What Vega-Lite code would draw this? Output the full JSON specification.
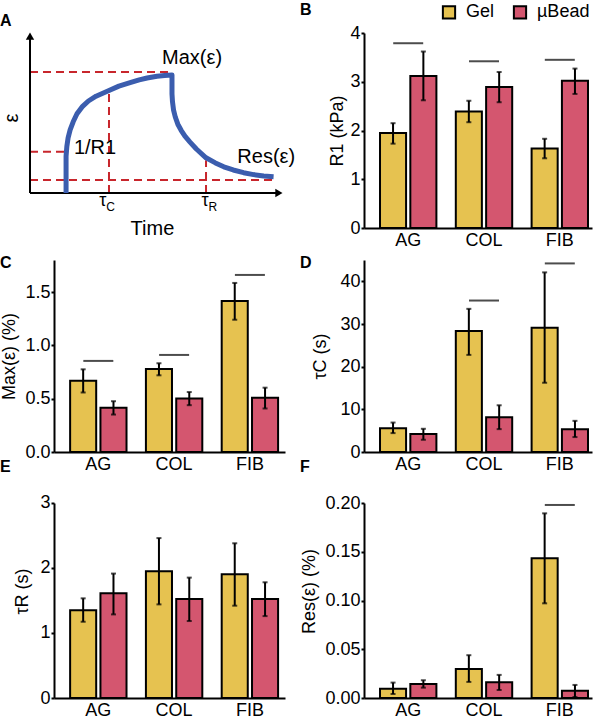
{
  "$schema": "https://vega.github.io/schema/vega-lite/v6.json",
  "background": "white",
  "padding": {"left": 0, "top": 2, "right": 2, "bottom": 2},
  "bounds": "flush",
  "align": "each",
  "columns": 2,
  "spacing": {"row": 32, "column": 79},
  "resolve": {"scale": {"color": "shared", "x": "independent", "y": "independent", "xOffset": "independent"}},
  "config": {
    "font": "Liberation Sans",
    "view": {"stroke": null},
    "axis": {"domainColor": "black", "domainWidth": 2, "tickColor": "black", "tickWidth": 2, "tickSize": 3, "labelColor": "black", "titleColor": "black", "labelFontSize": 18, "titleFontSize": 18, "titleFontWeight": "normal", "grid": false, "labelPadding": 1, "titlePadding": 5},
    "axisX": {"ticks": false, "labelAngle": 0, "labelPadding": 3},
    "title": {"fontSize": 16, "fontWeight": "bold", "anchor": "start", "frame": "group", "color": "black", "offset": 0}
  },
  "datasets": {
    "bars": [
      {"p": "B", "g": "AG", "t": "Gel", "v": 1.95, "lo": 1.73, "hi": 2.15},
      {"p": "B", "g": "AG", "t": "µBead", "v": 3.12, "lo": 2.62, "hi": 3.62},
      {"p": "B", "g": "COL", "t": "Gel", "v": 2.39, "lo": 2.17, "hi": 2.61},
      {"p": "B", "g": "COL", "t": "µBead", "v": 2.89, "lo": 2.58, "hi": 3.20},
      {"p": "B", "g": "FIB", "t": "Gel", "v": 1.63, "lo": 1.43, "hi": 1.83},
      {"p": "B", "g": "FIB", "t": "µBead", "v": 3.02, "lo": 2.75, "hi": 3.27},
      {"p": "C", "g": "AG", "t": "Gel", "v": 0.668, "lo": 0.558, "hi": 0.775},
      {"p": "C", "g": "AG", "t": "µBead", "v": 0.414, "lo": 0.351, "hi": 0.476},
      {"p": "C", "g": "COL", "t": "Gel", "v": 0.778, "lo": 0.719, "hi": 0.832},
      {"p": "C", "g": "COL", "t": "µBead", "v": 0.502, "lo": 0.439, "hi": 0.562},
      {"p": "C", "g": "FIB", "t": "Gel", "v": 1.415, "lo": 1.24, "hi": 1.585},
      {"p": "C", "g": "FIB", "t": "µBead", "v": 0.508, "lo": 0.408, "hi": 0.603},
      {"p": "D", "g": "AG", "t": "Gel", "v": 5.59, "lo": 4.43, "hi": 6.9},
      {"p": "D", "g": "AG", "t": "µBead", "v": 4.19, "lo": 2.87, "hi": 5.44},
      {"p": "D", "g": "COL", "t": "Gel", "v": 28.35, "lo": 22.76, "hi": 33.55},
      {"p": "D", "g": "COL", "t": "µBead", "v": 8.16, "lo": 5.36, "hi": 10.95},
      {"p": "D", "g": "FIB", "t": "Gel", "v": 29.13, "lo": 16.23, "hi": 42.1},
      {"p": "D", "g": "FIB", "t": "µBead", "v": 5.36, "lo": 3.5, "hi": 7.3},
      {"p": "E", "g": "AG", "t": "Gel", "v": 1.348, "lo": 1.173, "hi": 1.533},
      {"p": "E", "g": "AG", "t": "µBead", "v": 1.611, "lo": 1.286, "hi": 1.914},
      {"p": "E", "g": "COL", "t": "Gel", "v": 1.95, "lo": 1.44, "hi": 2.46},
      {"p": "E", "g": "COL", "t": "µBead", "v": 1.523, "lo": 1.184, "hi": 1.852},
      {"p": "E", "g": "FIB", "t": "Gel", "v": 1.904, "lo": 1.42, "hi": 2.38},
      {"p": "E", "g": "FIB", "t": "µBead", "v": 1.523, "lo": 1.26, "hi": 1.78},
      {"p": "F", "g": "AG", "t": "Gel", "v": 0.0096, "lo": 0.0041, "hi": 0.0158},
      {"p": "F", "g": "AG", "t": "µBead", "v": 0.0144, "lo": 0.0106, "hi": 0.0182},
      {"p": "F", "g": "COL", "t": "Gel", "v": 0.0298, "lo": 0.0165, "hi": 0.0439},
      {"p": "F", "g": "COL", "t": "µBead", "v": 0.0161, "lo": 0.0082, "hi": 0.0237},
      {"p": "F", "g": "FIB", "t": "Gel", "v": 0.1434, "lo": 0.0971, "hi": 0.1894},
      {"p": "F", "g": "FIB", "t": "µBead", "v": 0.0075, "lo": 0.001, "hi": 0.0134}
    ],
    "sig": [
      {"p": "B", "g": "AG", "v": 3.79},
      {"p": "B", "g": "COL", "v": 3.42},
      {"p": "B", "g": "FIB", "v": 3.45},
      {"p": "C", "g": "AG", "v": 0.854},
      {"p": "C", "g": "COL", "v": 0.91},
      {"p": "C", "g": "FIB", "v": 1.66},
      {"p": "D", "g": "COL", "v": 35.5},
      {"p": "D", "g": "FIB", "v": 44.2},
      {"p": "F", "g": "FIB", "v": 0.198}
    ],
    "aCurve": [
      {"o": 1, "t": 1.42, "e": 0}, {"o": 2, "t": 1.42, "e": 2.3}, {"o": 3, "t": 1.45, "e": 2.9},
      {"o": 4, "t": 1.5, "e": 3.44}, {"o": 5, "t": 1.58, "e": 3.95}, {"o": 6, "t": 1.7, "e": 4.45},
      {"o": 7, "t": 1.85, "e": 4.95}, {"o": 8, "t": 2.05, "e": 5.38}, {"o": 9, "t": 2.3, "e": 5.75},
      {"o": 10, "t": 2.6, "e": 6.05}, {"o": 11, "t": 3.11, "e": 6.41}, {"o": 12, "t": 3.5, "e": 6.68},
      {"o": 13, "t": 3.94, "e": 6.9}, {"o": 14, "t": 4.3, "e": 7.07}, {"o": 15, "t": 4.61, "e": 7.19},
      {"o": 16, "t": 5.0, "e": 7.3}, {"o": 17, "t": 5.3, "e": 7.35}, {"o": 18, "t": 5.59, "e": 7.38},
      {"o": 19, "t": 5.59, "e": 6.2}, {"o": 20, "t": 5.61, "e": 5.7}, {"o": 21, "t": 5.65, "e": 5.2},
      {"o": 22, "t": 5.72, "e": 4.75}, {"o": 23, "t": 5.82, "e": 4.3}, {"o": 24, "t": 5.95, "e": 3.92},
      {"o": 25, "t": 6.1, "e": 3.55}, {"o": 26, "t": 6.3, "e": 3.18}, {"o": 27, "t": 6.55, "e": 2.75},
      {"o": 28, "t": 6.93, "e": 2.2}, {"o": 29, "t": 7.3, "e": 1.88}, {"o": 30, "t": 7.63, "e": 1.64},
      {"o": 31, "t": 8.0, "e": 1.44}, {"o": 32, "t": 8.41, "e": 1.27}, {"o": 33, "t": 8.8, "e": 1.15},
      {"o": 34, "t": 9.2, "e": 1.06}, {"o": 35, "t": 9.59, "e": 1.02}
    ],
    "aDash": [
      {"x": 0, "y": 7.56, "x2": 5.59, "y2": 7.56},
      {"x": 0, "y": 2.58, "x2": 1.42, "y2": 2.58},
      {"x": 0, "y": 0.81, "x2": 9.59, "y2": 0.81},
      {"x": 3.11, "y": 0, "x2": 3.11, "y2": 6.3},
      {"x": 6.93, "y": 0, "x2": 6.93, "y2": 2.05}
    ],
    "aAxes": [
      {"x": 0, "y": 0, "x2": 0, "y2": 9.8},
      {"x": 0, "y": 0, "x2": 9.8, "y2": 0}
    ],
    "aText": [
      {"t": 6.38, "e": 8.44, "label": "Max(ε)"},
      {"t": 2.56, "e": 2.81, "label": "1/R1"},
      {"t": 9.3, "e": 2.27, "label": "Res(ε)"}
    ],
    "aTau": [
      {"t": 2.87, "e": -0.5, "label": "τ"},
      {"t": 6.89, "e": -0.5, "label": "τ"}
    ],
    "aSub": [
      {"t": 3.17, "e": -0.875, "label": "C"},
      {"t": 7.2, "e": -0.875, "label": "R"}
    ]
  },
  "concat": [
    {
      "width": 230, "height": 195,
      "title": {"text": "A", "dx": -54, "dy": 0},
      "layer": [
        {"data": {"name": "aDash"}, "mark": {"type": "rule", "color": "#c8262c", "strokeWidth": 2, "strokeDash": [8, 5]},
         "encoding": {
           "x": {"field": "x", "type": "quantitative", "scale": {"domain": [0.945, 10], "nice": false, "zero": false}, "axis": null},
           "y": {"field": "y", "type": "quantitative", "scale": {"domain": [-2.1875, 10], "nice": false, "zero": false}, "axis": null},
           "x2": {"field": "x2"}, "y2": {"field": "y2"}}},
        {"data": {"name": "aAxes"}, "mark": {"type": "rule", "color": "black", "strokeWidth": 2},
         "encoding": {"x": {"field": "x", "type": "quantitative"}, "y": {"field": "y", "type": "quantitative"}, "x2": {"field": "x2"}, "y2": {"field": "y2"}}},
        {"data": {"name": "aCurve"}, "mark": {"type": "line", "color": "#3b5dae", "strokeWidth": 5, "strokeJoin": "round"},
         "encoding": {"x": {"field": "t", "type": "quantitative"}, "y": {"field": "e", "type": "quantitative"}, "order": {"field": "o", "type": "quantitative"}}},
        {"data": {"values": [{"x": 0, "y": 9.8}]}, "mark": {"type": "point", "shape": "triangle-up", "filled": true, "color": "black", "opacity": 1, "size": 70},
         "encoding": {"x": {"field": "x", "type": "quantitative"}, "y": {"field": "y", "type": "quantitative"}}},
        {"data": {"values": [{"x": 9.8, "y": 0}]}, "mark": {"type": "point", "shape": "triangle-right", "filled": true, "color": "black", "opacity": 1, "size": 70},
         "encoding": {"x": {"field": "x", "type": "quantitative"}, "y": {"field": "y", "type": "quantitative"}}},
        {"data": {"name": "aText"}, "mark": {"type": "text", "fontSize": 20, "color": "black", "align": "center", "baseline": "middle"},
         "encoding": {"x": {"field": "t", "type": "quantitative"}, "y": {"field": "e", "type": "quantitative"}, "text": {"field": "label"}}},
        {"data": {"values": [{"t": 4.82, "e": -2.22, "label": "Time"}]}, "mark": {"type": "text", "fontSize": 20, "color": "black", "align": "center", "baseline": "middle"},
         "encoding": {"x": {"field": "t", "type": "quantitative"}, "y": {"field": "e", "type": "quantitative"}, "text": {"field": "label"}}},
        {"data": {"values": [{"t": -0.71, "e": 4.69, "label": "ε"}]}, "mark": {"type": "text", "fontSize": 20, "color": "black", "align": "center", "baseline": "middle", "angle": 270},
         "encoding": {"x": {"field": "t", "type": "quantitative"}, "y": {"field": "e", "type": "quantitative"}, "text": {"field": "label"}}},
        {"data": {"name": "aTau"}, "mark": {"type": "text", "fontSize": 18, "color": "black", "align": "center", "baseline": "middle"},
         "encoding": {"x": {"field": "t", "type": "quantitative"}, "y": {"field": "e", "type": "quantitative"}, "text": {"field": "label"}}},
        {"data": {"name": "aSub"}, "mark": {"type": "text", "fontSize": 12, "color": "black", "align": "center", "baseline": "middle"},
         "encoding": {"x": {"field": "t", "type": "quantitative"}, "y": {"field": "e", "type": "quantitative"}, "text": {"field": "label"}}}
      ]
    },
    {
      "width": 228, "height": 195,
      "title": {"text": "B", "dx": -64, "dy": -2},
      "layer": [
        {"data": {"name": "bars"}, "transform": [{"filter": "datum.p === 'B'"}],
         "mark": {"type": "bar", "stroke": "black", "strokeWidth": 2},
         "encoding": {
           "x": {"field": "g", "type": "nominal", "sort": ["AG", "COL", "FIB"], "scale": {"paddingInner": 0.256, "paddingOuter": 0.132, "align": 0.8}, "axis": {"title": null}},
           "xOffset": {"field": "t", "type": "nominal", "sort": ["Gel", "µBead"], "scale": {"paddingInner": 0.14, "paddingOuter": 0}},
           "y": {"field": "v", "type": "quantitative", "scale": {"domain": [0, 4], "nice": false}, "axis": {"title": "R1 (kPa)", "values": [0, 1, 2, 3, 4], "format": "d", "titleX": -18}},
           "color": {"field": "t", "type": "nominal", "scale": {"domain": ["Gel", "µBead"], "range": ["#e6c250", "#d4566f"]},
             "legend": {"orient": "none", "legendX": 386, "legendY": -30, "direction": "horizontal", "title": null, "symbolType": "square", "symbolSize": 150, "symbolStrokeColor": "black", "symbolStrokeWidth": 2, "symbolOpacity": 1, "labelFontSize": 18, "columnPadding": 14, "labelOffset": 8, "padding": 0}}
         }},
        {"data": {"name": "bars"}, "transform": [{"filter": "datum.p === 'B'"}],
         "mark": {"type": "rule", "color": "black", "strokeWidth": 2},
         "encoding": {"x": {"field": "g", "type": "nominal", "sort": ["AG", "COL", "FIB"]}, "xOffset": {"field": "t", "type": "nominal", "sort": ["Gel", "µBead"]}, "y": {"field": "lo", "type": "quantitative"}, "y2": {"field": "hi"}}},
        {"data": {"name": "bars"}, "transform": [{"filter": "datum.p === 'B'"}],
         "mark": {"type": "tick", "color": "black", "thickness": 2, "size": 5},
         "encoding": {"x": {"field": "g", "type": "nominal", "sort": ["AG", "COL", "FIB"]}, "xOffset": {"field": "t", "type": "nominal", "sort": ["Gel", "µBead"]}, "y": {"field": "lo", "type": "quantitative"}}},
        {"data": {"name": "bars"}, "transform": [{"filter": "datum.p === 'B'"}],
         "mark": {"type": "tick", "color": "black", "thickness": 2, "size": 5},
         "encoding": {"x": {"field": "g", "type": "nominal", "sort": ["AG", "COL", "FIB"]}, "xOffset": {"field": "t", "type": "nominal", "sort": ["Gel", "µBead"]}, "y": {"field": "hi", "type": "quantitative"}}},
        {"data": {"name": "sig"}, "transform": [{"filter": "datum.p === 'B'"}],
         "mark": {"type": "tick", "color": "black", "thickness": 2, "size": 30},
         "encoding": {"x": {"field": "g", "type": "nominal", "sort": ["AG", "COL", "FIB"]}, "y": {"field": "v", "type": "quantitative"}}}
      ]
    },
    {
      "width": 231, "height": 192,
      "title": {"text": "C", "dx": -54, "dy": 15},
      "layer": [
        {"data": {"name": "bars"}, "transform": [{"filter": "datum.p === 'C'"}],
         "mark": {"type": "bar", "stroke": "black", "strokeWidth": 2},
         "encoding": {
           "x": {"field": "g", "type": "nominal", "sort": ["AG", "COL", "FIB"], "scale": {"paddingInner": 0.256, "paddingOuter": 0.152, "align": 0.7}, "axis": {"title": null}},
           "xOffset": {"field": "t", "type": "nominal", "sort": ["Gel", "µBead"], "scale": {"paddingInner": 0.14, "paddingOuter": 0}},
           "y": {"field": "v", "type": "quantitative", "scale": {"domain": [0, 1.8], "nice": false}, "axis": {"title": "Max(ε) (%)", "values": [0, 0.5, 1, 1.5], "format": ".1f", "titleX": -36}},
           "color": {"field": "t", "type": "nominal", "scale": {"domain": ["Gel", "µBead"], "range": ["#e6c250", "#d4566f"]},
             "legend": {"orient": "none", "legendX": 386, "legendY": -30, "direction": "horizontal", "title": null, "symbolType": "square", "symbolSize": 150, "symbolStrokeColor": "black", "symbolStrokeWidth": 2, "symbolOpacity": 1, "labelFontSize": 18, "columnPadding": 14, "labelOffset": 8, "padding": 0}}
         }},
        {"data": {"name": "bars"}, "transform": [{"filter": "datum.p === 'C'"}],
         "mark": {"type": "rule", "color": "black", "strokeWidth": 2},
         "encoding": {"x": {"field": "g", "type": "nominal", "sort": ["AG", "COL", "FIB"]}, "xOffset": {"field": "t", "type": "nominal", "sort": ["Gel", "µBead"]}, "y": {"field": "lo", "type": "quantitative"}, "y2": {"field": "hi"}}},
        {"data": {"name": "bars"}, "transform": [{"filter": "datum.p === 'C'"}],
         "mark": {"type": "tick", "color": "black", "thickness": 2, "size": 5},
         "encoding": {"x": {"field": "g", "type": "nominal", "sort": ["AG", "COL", "FIB"]}, "xOffset": {"field": "t", "type": "nominal", "sort": ["Gel", "µBead"]}, "y": {"field": "lo", "type": "quantitative"}}},
        {"data": {"name": "bars"}, "transform": [{"filter": "datum.p === 'C'"}],
         "mark": {"type": "tick", "color": "black", "thickness": 2, "size": 5},
         "encoding": {"x": {"field": "g", "type": "nominal", "sort": ["AG", "COL", "FIB"]}, "xOffset": {"field": "t", "type": "nominal", "sort": ["Gel", "µBead"]}, "y": {"field": "hi", "type": "quantitative"}}},
        {"data": {"name": "sig"}, "transform": [{"filter": "datum.p === 'C'"}],
         "mark": {"type": "tick", "color": "black", "thickness": 2, "size": 30},
         "encoding": {"x": {"field": "g", "type": "nominal", "sort": ["AG", "COL", "FIB"]}, "y": {"field": "v", "type": "quantitative"}}}
      ]
    },
    {
      "width": 228, "height": 192,
      "title": {"text": "D", "dx": -64, "dy": 15},
      "layer": [
        {"data": {"name": "bars"}, "transform": [{"filter": "datum.p === 'D'"}],
         "mark": {"type": "bar", "stroke": "black", "strokeWidth": 2},
         "encoding": {
           "x": {"field": "g", "type": "nominal", "sort": ["AG", "COL", "FIB"], "scale": {"paddingInner": 0.256, "paddingOuter": 0.132, "align": 0.8}, "axis": {"title": null}},
           "xOffset": {"field": "t", "type": "nominal", "sort": ["Gel", "µBead"], "scale": {"paddingInner": 0.14, "paddingOuter": 0}},
           "y": {"field": "v", "type": "quantitative", "scale": {"domain": [0, 45], "nice": false}, "axis": {"title": "τC (s)", "values": [0, 10, 20, 30, 40], "format": "d", "titleX": -35}},
           "color": {"field": "t", "type": "nominal", "scale": {"domain": ["Gel", "µBead"], "range": ["#e6c250", "#d4566f"]},
             "legend": {"orient": "none", "legendX": 386, "legendY": -30, "direction": "horizontal", "title": null, "symbolType": "square", "symbolSize": 150, "symbolStrokeColor": "black", "symbolStrokeWidth": 2, "symbolOpacity": 1, "labelFontSize": 18, "columnPadding": 14, "labelOffset": 8, "padding": 0}}
         }},
        {"data": {"name": "bars"}, "transform": [{"filter": "datum.p === 'D'"}],
         "mark": {"type": "rule", "color": "black", "strokeWidth": 2},
         "encoding": {"x": {"field": "g", "type": "nominal", "sort": ["AG", "COL", "FIB"]}, "xOffset": {"field": "t", "type": "nominal", "sort": ["Gel", "µBead"]}, "y": {"field": "lo", "type": "quantitative"}, "y2": {"field": "hi"}}},
        {"data": {"name": "bars"}, "transform": [{"filter": "datum.p === 'D'"}],
         "mark": {"type": "tick", "color": "black", "thickness": 2, "size": 5},
         "encoding": {"x": {"field": "g", "type": "nominal", "sort": ["AG", "COL", "FIB"]}, "xOffset": {"field": "t", "type": "nominal", "sort": ["Gel", "µBead"]}, "y": {"field": "lo", "type": "quantitative"}}},
        {"data": {"name": "bars"}, "transform": [{"filter": "datum.p === 'D'"}],
         "mark": {"type": "tick", "color": "black", "thickness": 2, "size": 5},
         "encoding": {"x": {"field": "g", "type": "nominal", "sort": ["AG", "COL", "FIB"]}, "xOffset": {"field": "t", "type": "nominal", "sort": ["Gel", "µBead"]}, "y": {"field": "hi", "type": "quantitative"}}},
        {"data": {"name": "sig"}, "transform": [{"filter": "datum.p === 'D'"}],
         "mark": {"type": "tick", "color": "black", "thickness": 2, "size": 30},
         "encoding": {"x": {"field": "g", "type": "nominal", "sort": ["AG", "COL", "FIB"]}, "y": {"field": "v", "type": "quantitative"}}}
      ]
    },
    {
      "width": 231, "height": 214,
      "title": {"text": "E", "dx": -54, "dy": -5},
      "layer": [
        {"data": {"name": "bars"}, "transform": [{"filter": "datum.p === 'E'"}],
         "mark": {"type": "bar", "stroke": "black", "strokeWidth": 2},
         "encoding": {
           "x": {"field": "g", "type": "nominal", "sort": ["AG", "COL", "FIB"], "scale": {"paddingInner": 0.256, "paddingOuter": 0.152, "align": 0.7}, "axis": {"title": null}},
           "xOffset": {"field": "t", "type": "nominal", "sort": ["Gel", "µBead"], "scale": {"paddingInner": 0.14, "paddingOuter": 0}},
           "y": {"field": "v", "type": "quantitative", "scale": {"domain": [0, 3.292], "nice": false}, "axis": {"title": "τR (s)", "values": [0, 1, 2, 3], "format": "d", "domainDash": [195, 60], "titleX": -23}},
           "color": {"field": "t", "type": "nominal", "scale": {"domain": ["Gel", "µBead"], "range": ["#e6c250", "#d4566f"]},
             "legend": {"orient": "none", "legendX": 386, "legendY": -30, "direction": "horizontal", "title": null, "symbolType": "square", "symbolSize": 150, "symbolStrokeColor": "black", "symbolStrokeWidth": 2, "symbolOpacity": 1, "labelFontSize": 18, "columnPadding": 14, "labelOffset": 8, "padding": 0}}
         }},
        {"data": {"name": "bars"}, "transform": [{"filter": "datum.p === 'E'"}],
         "mark": {"type": "rule", "color": "black", "strokeWidth": 2},
         "encoding": {"x": {"field": "g", "type": "nominal", "sort": ["AG", "COL", "FIB"]}, "xOffset": {"field": "t", "type": "nominal", "sort": ["Gel", "µBead"]}, "y": {"field": "lo", "type": "quantitative"}, "y2": {"field": "hi"}}},
        {"data": {"name": "bars"}, "transform": [{"filter": "datum.p === 'E'"}],
         "mark": {"type": "tick", "color": "black", "thickness": 2, "size": 5},
         "encoding": {"x": {"field": "g", "type": "nominal", "sort": ["AG", "COL", "FIB"]}, "xOffset": {"field": "t", "type": "nominal", "sort": ["Gel", "µBead"]}, "y": {"field": "lo", "type": "quantitative"}}},
        {"data": {"name": "bars"}, "transform": [{"filter": "datum.p === 'E'"}],
         "mark": {"type": "tick", "color": "black", "thickness": 2, "size": 5},
         "encoding": {"x": {"field": "g", "type": "nominal", "sort": ["AG", "COL", "FIB"]}, "xOffset": {"field": "t", "type": "nominal", "sort": ["Gel", "µBead"]}, "y": {"field": "hi", "type": "quantitative"}}}
      ]
    },
    {
      "width": 228, "height": 214,
      "title": {"text": "F", "dx": -64, "dy": -5},
      "layer": [
        {"data": {"name": "bars"}, "transform": [{"filter": "datum.p === 'F'"}],
         "mark": {"type": "bar", "stroke": "black", "strokeWidth": 2},
         "encoding": {
           "x": {"field": "g", "type": "nominal", "sort": ["AG", "COL", "FIB"], "scale": {"paddingInner": 0.256, "paddingOuter": 0.132, "align": 0.8}, "axis": {"title": null}},
           "xOffset": {"field": "t", "type": "nominal", "sort": ["Gel", "µBead"], "scale": {"paddingInner": 0.14, "paddingOuter": 0}},
           "y": {"field": "v", "type": "quantitative", "scale": {"domain": [0, 0.2195], "nice": false}, "axis": {"title": "Res(ε) (%)", "values": [0, 0.05, 0.1, 0.15, 0.2], "format": ".2f", "domainDash": [195, 60], "titleX": -46}},
           "color": {"field": "t", "type": "nominal", "scale": {"domain": ["Gel", "µBead"], "range": ["#e6c250", "#d4566f"]},
             "legend": {"orient": "none", "legendX": 386, "legendY": -30, "direction": "horizontal", "title": null, "symbolType": "square", "symbolSize": 150, "symbolStrokeColor": "black", "symbolStrokeWidth": 2, "symbolOpacity": 1, "labelFontSize": 18, "columnPadding": 14, "labelOffset": 8, "padding": 0}}
         }},
        {"data": {"name": "bars"}, "transform": [{"filter": "datum.p === 'F'"}],
         "mark": {"type": "rule", "color": "black", "strokeWidth": 2},
         "encoding": {"x": {"field": "g", "type": "nominal", "sort": ["AG", "COL", "FIB"]}, "xOffset": {"field": "t", "type": "nominal", "sort": ["Gel", "µBead"]}, "y": {"field": "lo", "type": "quantitative"}, "y2": {"field": "hi"}}},
        {"data": {"name": "bars"}, "transform": [{"filter": "datum.p === 'F'"}],
         "mark": {"type": "tick", "color": "black", "thickness": 2, "size": 5},
         "encoding": {"x": {"field": "g", "type": "nominal", "sort": ["AG", "COL", "FIB"]}, "xOffset": {"field": "t", "type": "nominal", "sort": ["Gel", "µBead"]}, "y": {"field": "lo", "type": "quantitative"}}},
        {"data": {"name": "bars"}, "transform": [{"filter": "datum.p === 'F'"}],
         "mark": {"type": "tick", "color": "black", "thickness": 2, "size": 5},
         "encoding": {"x": {"field": "g", "type": "nominal", "sort": ["AG", "COL", "FIB"]}, "xOffset": {"field": "t", "type": "nominal", "sort": ["Gel", "µBead"]}, "y": {"field": "hi", "type": "quantitative"}}},
        {"data": {"name": "sig"}, "transform": [{"filter": "datum.p === 'F'"}],
         "mark": {"type": "tick", "color": "black", "thickness": 2, "size": 30},
         "encoding": {"x": {"field": "g", "type": "nominal", "sort": ["AG", "COL", "FIB"]}, "y": {"field": "v", "type": "quantitative"}}}
      ]
    }
  ]
}
